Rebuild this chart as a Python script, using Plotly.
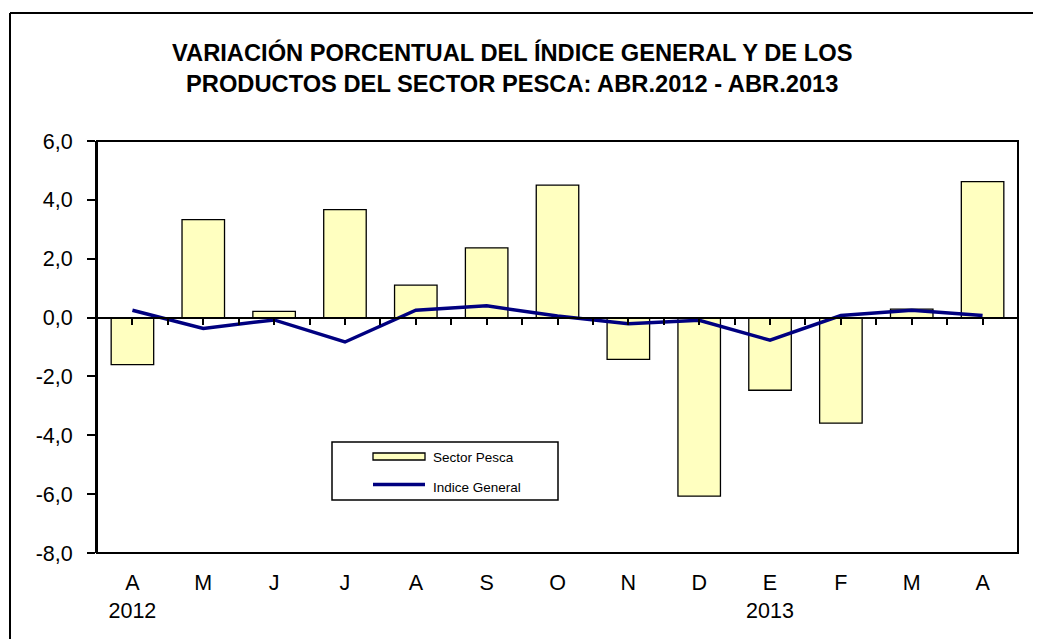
import plotly.graph_objects as go

# ---- data ----
months = ["A", "M", "J", "J", "A", "S", "O", "N", "D", "E", "F", "M", "A"]
years = ["2012", "", "", "", "", "", "", "", "", "2013", "", "", ""]
sector_pesca = [-1.6, 3.33, 0.21, 3.67, 1.10, 2.37, 4.50, -1.42, -6.07, -2.47, -3.59, 0.29, 4.62]
indice_general = [0.25, -0.37, -0.08, -0.83, 0.25, 0.40, 0.05, -0.21, -0.09, -0.77, 0.07, 0.25, 0.07]
y_tickvals = [-8, -6, -4, -2, 0, 2, 4, 6]
y_ticktext = ["-8,0", "-6,0", "-4,0", "-2,0", "0,0", "2,0", "4,0", "6,0"]

title_line1 = "VARIACIÓN PORCENTUAL DEL ÍNDICE GENERAL Y DE LOS"
title_line2 = "PRODUCTOS DEL SECTOR PESCA: ABR.2012 - ABR.2013"
legend_names = ["Sector Pesca", "Indice General"]

# ---- layout geometry (pixels, in reference-image coordinates) ----
OFF = 8                      # page body margin of the browser
W, H = 1041, 639
L, R, T, B = 97, 23, 141, 86
PW, PH = W - L - R, H - T - B


def px(x):
    return (x - L) / PW


def py(y):
    return (H - B - y) / PH


FONT = "Arial, Liberation Sans, sans-serif"

xpos = list(range(len(months)))
ticktext = [m if not yr else f"{m}<br>{yr}" for m, yr in zip(months, years)]

fig = go.Figure()
fig.add_trace(go.Bar(
    x=xpos, y=sector_pesca, name=legend_names[0],
    marker=dict(color="#FFFFC0", line=dict(color="black", width=1.3)),
    showlegend=False,
))
fig.add_trace(go.Scatter(
    x=xpos, y=indice_general, name=legend_names[1], mode="lines",
    line=dict(color="#000080", width=3.5),
    showlegend=False,
))

y_range = [min(y_tickvals), max(y_tickvals)]
zero_pos = (0 - y_range[0]) / (y_range[1] - y_range[0])

fig.update_layout(
    width=W - OFF, height=H - OFF,
    margin=dict(l=L - OFF, r=R, t=T - OFF, b=B, autoexpand=False),
    paper_bgcolor="white", plot_bgcolor="white",
    bargap=0.4,
    font=dict(family=FONT, size=21, color="black"),
    xaxis=dict(
        range=[-0.5, len(months) - 0.5],
        tickmode="array", tickvals=xpos, ticktext=ticktext,
        anchor="free", position=zero_pos,
        showline=True, linecolor="black", linewidth=1.5,
        ticks="outside", ticklen=7, tickwidth=1.5, tickcolor="black",
        minor=dict(tick0=-0.5, dtick=1, ticks="outside", ticklen=7,
                   tickwidth=1.5, tickcolor="black"),
        ticklabelstandoff=239,
        showgrid=False, zeroline=False,
        tickfont=dict(family=FONT, size=21.5, color="black"),
    ),
    yaxis=dict(
        range=y_range, tickmode="array", tickvals=y_tickvals, ticktext=y_ticktext,
        showline=True, linecolor="black", linewidth=2,
        ticks="outside", ticklen=8, tickwidth=2, tickcolor="black",
        ticklabelstandoff=10,
        showgrid=False, zeroline=False,
        tickfont=dict(family=FONT, size=21.5, color="black"),
    ),
)

shapes = [
    # plot frame
    dict(type="rect", xref="paper", yref="paper", x0=0, x1=1, y0=0, y1=1,
         line=dict(color="black", width=2), fillcolor="rgba(0,0,0,0)", layer="above"),
    # outer chart border (top and left)
    dict(type="line", xref="paper", yref="paper", x0=px(10), x1=px(W + 5), y0=py(13), y1=py(13),
         line=dict(color="black", width=2)),
    dict(type="line", xref="paper", yref="paper", x0=px(10), x1=px(10), y0=py(13), y1=py(H + 5),
         line=dict(color="black", width=2)),
    # legend box
    dict(type="rect", xref="paper", yref="paper", x0=px(332), x1=px(558), y0=py(500), y1=py(442),
         line=dict(color="black", width=1.5), fillcolor="white", layer="above"),
    # legend symbols
    dict(type="rect", xref="paper", yref="paper", x0=px(373), x1=px(425), y0=py(460), y1=py(453),
         line=dict(color="black", width=1.3), fillcolor="#FFFFC0", layer="above"),
    dict(type="line", xref="paper", yref="paper", x0=px(373), x1=px(425), y0=py(484.5), y1=py(484.5),
         line=dict(color="#000080", width=3.5), layer="above"),
]

annotations = [
    dict(text=f"<b>{title_line1}</b>", xref="paper", yref="paper", x=px(512), y=py(52),
         xanchor="center", yanchor="middle", showarrow=False,
         font=dict(family=FONT, size=23.7, color="black")),
    dict(text=f"<b>{title_line2}</b>", xref="paper", yref="paper", x=px(512), y=py(84),
         xanchor="center", yanchor="middle", showarrow=False,
         font=dict(family=FONT, size=23.7, color="black")),
    dict(text=legend_names[0], xref="paper", yref="paper", x=px(431), y=py(457),
         xanchor="left", yanchor="middle", showarrow=False,
         font=dict(family=FONT, size=13.5, color="black")),
    dict(text=legend_names[1], xref="paper", yref="paper", x=px(431), y=py(487),
         xanchor="left", yanchor="middle", showarrow=False,
         font=dict(family=FONT, size=13.5, color="black")),
]

fig.update_layout(shapes=shapes, annotations=annotations)
fig.write_html("out.html")
